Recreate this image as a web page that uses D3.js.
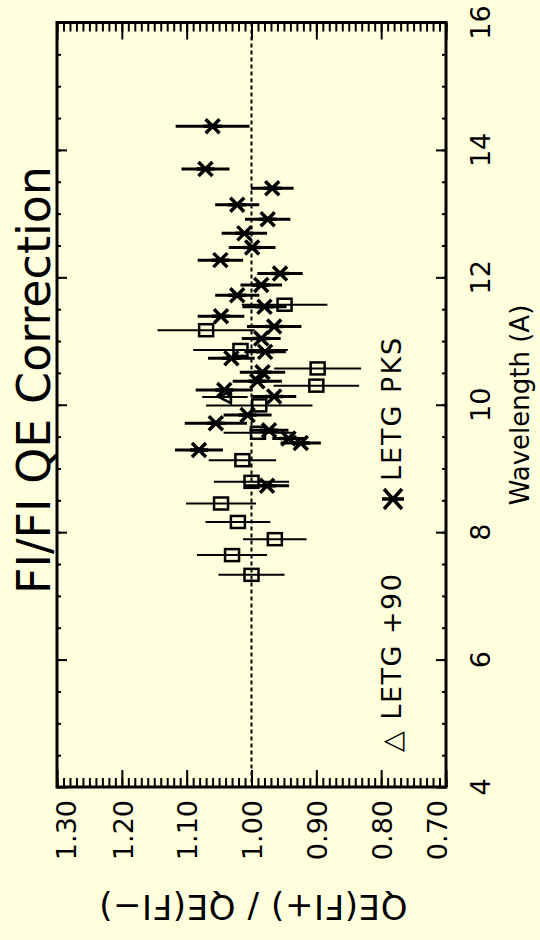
<!DOCTYPE html>
<meta charset="utf-8">
<style>
  body { margin: 0; background: #ffffdd; }
  text { font-family: "DejaVu Sans", sans-serif; fill: #000; }
</style>
<body>
  <div id="chart"></div>
</body>
<script src="https://cdn.jsdelivr.net/npm/d3@7"></script>
<script>
  var svg_width = 540,
      svg_height = 940;

  // LETG PKS (asterisks)
  var pks_wave  = [14.37, 13.70, 13.40, 13.14, 12.91, 12.69, 12.47, 12.27, 12.06, 11.88,
                   11.72, 11.54, 11.39, 11.23, 11.04, 10.83, 10.73, 10.51, 10.37, 10.23,
                   10.13, 9.84, 9.71, 9.60, 9.47, 9.40, 9.29, 8.73];
  var pks_ratio = [1.060, 1.071, 0.968, 1.022, 0.975, 1.011, 0.999, 1.048, 0.956, 0.985,
                   1.022, 0.980, 1.047, 0.965, 0.985, 0.979, 1.031, 0.983, 0.991, 1.042,
                   0.965, 1.006, 1.055, 0.973, 0.943, 0.924, 1.081, 0.976];
  var pks_err   = [0.057, 0.037, 0.033, 0.034, 0.035, 0.035, 0.036, 0.035, 0.035, 0.032,
                   0.034, 0.034, 0.036, 0.042, 0.030, 0.032, 0.036, 0.035, 0.038, 0.044,
                   0.034, 0.037, 0.048, 0.030, 0.025, 0.031, 0.037, 0.034];

  // LETG +90 (squares)
  var p90_wave  = [11.57, 11.17, 10.86, 10.57, 10.30, 9.99, 9.56, 9.13, 8.79, 8.45, 8.16, 7.89, 7.64, 7.33];
  var p90_ratio = [0.949, 1.070, 1.017, 0.898, 0.900, 0.988, 0.990, 1.014, 1.000, 1.047, 1.021, 0.964, 1.030, 1.000];
  var p90_err   = [0.066, 0.075, 0.073, 0.067, 0.066, 0.082, 0.053, 0.052, 0.058, 0.054, 0.050, 0.049, 0.054, 0.051];

  // triangle point
  var tri_wave  = [10.12];
  var tri_ratio = [1.041];
  var tri_err   = [0.035];

  var ratio_ticks  = [1.30, 1.20, 1.10, 1.00, 0.90, 0.80, 0.70];
  var ratio_labels = ["1.30", "1.20", "1.10", "1.00", "0.90", "0.80", "0.70"];
  var wave_ticks   = [4, 6, 8, 10, 12, 14, 16];

  var frame = {left: 57, right: 446, top: 22.5, bottom: 787};

  var x = d3.scaleLinear().domain([1.30, 0.70]).range([frame.left, frame.right]);
  var y = d3.scaleLinear().domain([4, 16]).range([frame.bottom, frame.top]);

  var svg = d3.select("#chart").append("svg")
      .attr("width", svg_width)
      .attr("height", svg_height);

  svg.append("rect")
      .attr("width", svg_width).attr("height", svg_height)
      .style("fill", "#ffffdd");

  // ticks - ratio axis on top & bottom, wavelength on left & right
  var ratio_minor = d3.range(70, 131).map(function(d){ return d / 100; });
  var wave_minor = d3.range(8, 33).map(function(d){ return d / 2; });

  function add_axis(axis, tx, ty) {
      var g = svg.append("g")
          .attr("transform", "translate(" + tx + "," + ty + ")")
          .call(axis);
      g.select(".domain").remove();
      g.selectAll("line").style("stroke", "#000").style("stroke-width", 2);
      return g;
  }

  add_axis(d3.axisBottom(x).tickValues(ratio_minor).tickSize(9).tickFormat(""), 0, frame.top);
  add_axis(d3.axisBottom(x).tickValues(ratio_ticks).tickSize(17).tickFormat(""), 0, frame.top);
  add_axis(d3.axisTop(x).tickValues(ratio_minor).tickSize(9).tickFormat(""), 0, frame.bottom);
  add_axis(d3.axisTop(x).tickValues(ratio_ticks).tickSize(17).tickFormat(""), 0, frame.bottom);
  add_axis(d3.axisRight(y).tickValues(wave_minor).tickSize(4).tickFormat(""), frame.left, 0);
  add_axis(d3.axisRight(y).tickValues(wave_ticks).tickSize(10).tickFormat(""), frame.left, 0);
  add_axis(d3.axisLeft(y).tickValues(wave_minor).tickSize(4).tickFormat(""), frame.right, 0);
  add_axis(d3.axisLeft(y).tickValues(wave_ticks).tickSize(10).tickFormat(""), frame.right, 0);

  // frame
  svg.append("rect")
      .attr("x", frame.left).attr("y", frame.top)
      .attr("width", frame.right - frame.left)
      .attr("height", frame.bottom - frame.top)
      .style("fill", "none")
      .style("stroke", "#000")
      .style("stroke-width", 3);

  // reference line at 1.00
  svg.append("line")
      .attr("x1", x(1)).attr("x2", x(1))
      .attr("y1", frame.top).attr("y2", frame.bottom)
      .style("stroke", "#000")
      .style("stroke-width", 2)
      .style("stroke-dasharray", "4,3");

  // ratio tick labels (rotated)
  svg.append("g").selectAll("text")
      .data(ratio_ticks)
      .enter().append("text")
      .attr("transform", function(d, i){
          var dx = i == 0 ? 9 : (i == ratio_ticks.length - 1 ? -9 : 1);
          return "translate(" + (x(d) + dx) + ",800) rotate(-90)";
      })
      .attr("dy", "0.36em")
      .attr("text-anchor", "end")
      .style("font-size", "27px")
      .text(function(d, i){ return ratio_labels[i]; });

  // wavelength tick labels
  svg.append("g").selectAll("text")
      .data(wave_ticks)
      .enter().append("text")
      .attr("transform", function(d){ return "translate(490," + y(d) + ") rotate(-90)"; })
      .attr("text-anchor", "middle")
      .style("font-size", "27px")
      .text(function(d){ return d; });

  // titles
  svg.append("text")
      .attr("transform", "translate(50,380) rotate(-90)")
      .attr("text-anchor", "middle")
      .style("font-size", "46px")
      .text("FI/FI QE Correction");

  svg.append("text")
      .attr("transform", "translate(529,405) rotate(-90)")
      .attr("text-anchor", "middle")
      .style("font-size", "26px")
      .text("Wavelength (A)");

  svg.append("text")
      .attr("transform", "translate(253,895) rotate(180)")
      .attr("text-anchor", "middle")
      .style("font-size", "34px")
      .style("letter-spacing", "0.6px")
      .text("QE(FI+) / QE(FI\u2212)");

  // error bars + markers
  function to_points(w, r, e) {
      return w.map(function(d, i){ return {w: d, r: r[i], e: e[i]}; });
  }
  var pks = to_points(pks_wave, pks_ratio, pks_err);
  var p90 = to_points(p90_wave, p90_ratio, p90_err);
  var tri = to_points(tri_wave, tri_ratio, tri_err);

  function error_bars(data, width) {
      svg.append("g").selectAll("line")
          .data(data)
          .enter().append("line")
          .attr("x1", function(d){ return x(d.r + d.e); })
          .attr("x2", function(d){ return x(d.r - d.e); })
          .attr("y1", function(d){ return y(d.w); })
          .attr("y2", function(d){ return y(d.w); })
          .style("stroke", "#000")
          .style("stroke-width", width);
  }
  error_bars(p90, 2);
  error_bars(tri, 2);
  error_bars(pks, 3);

  var star_path = "M-7,-7L7,7M-7,7L7,-7M-9,0L9,0";
  svg.append("g").selectAll("path")
      .data(pks)
      .enter().append("path")
      .attr("transform", function(d){ return "translate(" + x(d.r) + "," + y(d.w) + ")"; })
      .attr("d", star_path)
      .style("fill", "none")
      .style("stroke", "#000")
      .style("stroke-width", 3.5);

  svg.append("g").selectAll("rect")
      .data(p90)
      .enter().append("rect")
      .attr("x", function(d){ return x(d.r) - 7; })
      .attr("y", function(d){ return y(d.w) - 6; })
      .attr("width", 14).attr("height", 12)
      .style("fill", "none")
      .style("stroke", "#000")
      .style("stroke-width", 2.5);

  svg.append("g").selectAll("path")
      .data(tri)
      .enter().append("path")
      .attr("transform", function(d){ return "translate(" + x(d.r) + "," + y(d.w) + ")"; })
      .attr("d", "M-6,0L6,-6L6,6Z")
      .style("fill", "none")
      .style("stroke", "#000")
      .style("stroke-width", 2.5);

  // legend
  svg.append("text")
      .attr("transform", "translate(401,752) rotate(-90)")
      .style("font-size", "27px")
      .style("letter-spacing", "1.5px")
      .text("\u25B3 LETG +90");

  svg.append("path")
      .attr("transform", "translate(393,499)")
      .attr("d", "M-9,-10L9,10M-9,10L9,-10M-11,0L11,0")
      .style("fill", "none")
      .style("stroke", "#000")
      .style("stroke-width", 3.5);

  svg.append("text")
      .attr("transform", "translate(401,481) rotate(-90)")
      .style("font-size", "27px")
      .style("letter-spacing", "2px")
      .text("LETG PKS");
</script>
